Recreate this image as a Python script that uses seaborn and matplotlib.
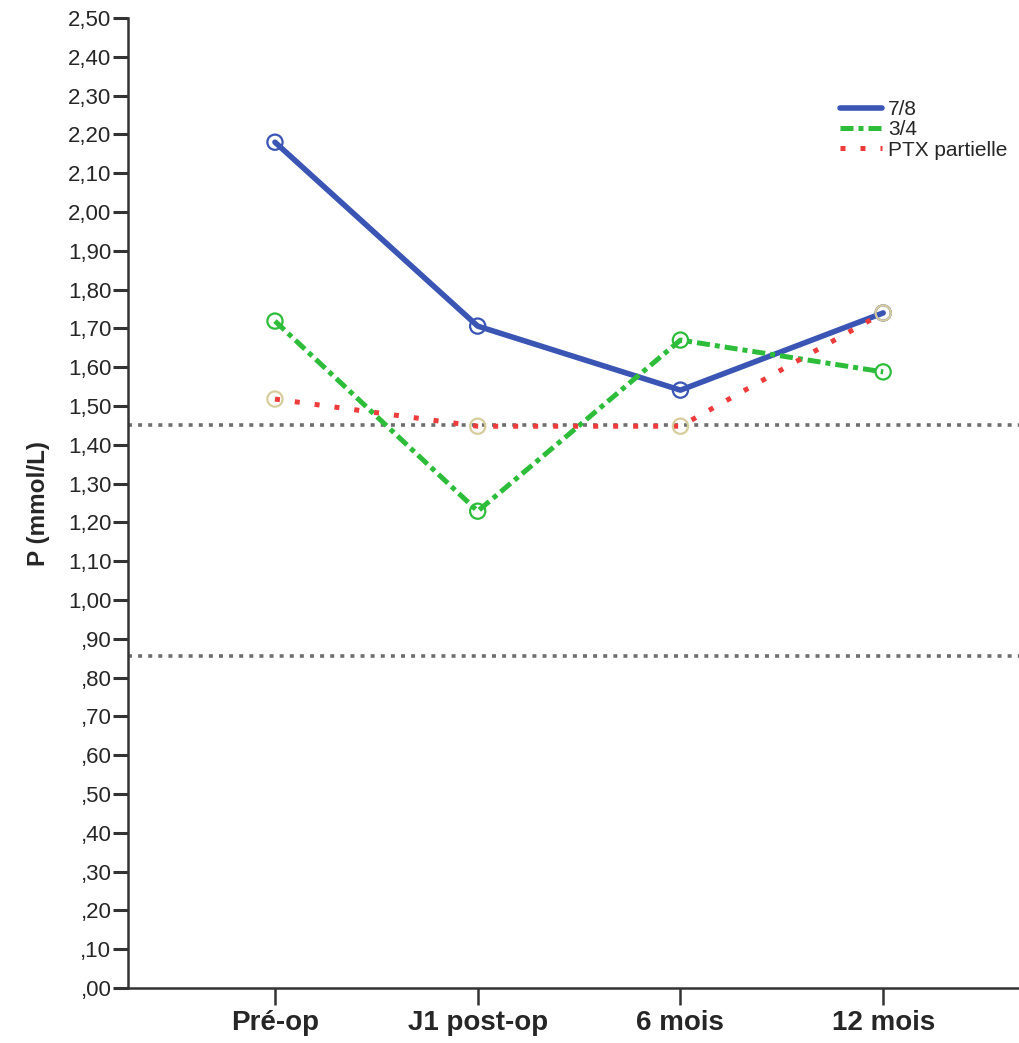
import matplotlib
matplotlib.use("Agg")
import matplotlib.pyplot as plt
from matplotlib.ticker import FuncFormatter, MultipleLocator
import numpy as np
import pandas as pd
import seaborn as sns

# ── data ──────────────────────────────────────────────────────────────────────
timepoints = ["Pré-op", "J1 post-op", "6 mois", "12 mois"]
p_78 = [2.18, 1.706, 1.541, 1.740]
p_34 = [1.719, 1.229, 1.670, 1.588]
p_ptx = [1.518, 1.448, 1.448, 1.740]
ref_low, ref_high = 0.855, 1.45

series = {"7/8": p_78, "3/4": p_34, "PTX partielle": p_ptx}
df = pd.DataFrame(
    [(i, t, v, g) for g, vals in series.items() for i, (t, v) in enumerate(zip(timepoints, vals))],
    columns=["pos", "temps", "P", "groupe"],
)

# ── styling ───────────────────────────────────────────────────────────────────
sns.set_style("ticks")
plt.rcParams["font.family"] = ["Liberation Sans", "DejaVu Sans"]

line_style = {
    "7/8":           dict(color="#3a55b4", lw=4.0, dashes=None, mec="#3a55b4"),
    "3/4":           dict(color="#2dbd3a", lw=3.6, dashes=(2.6, 1.0, 1.0, 1.0), mec="#2dbd3a"),
    "PTX partielle": dict(color="#ee3b3b", lw=3.6, dashes=(1.0, 3.0), mec="#d6cc9c"),
}

fig = plt.figure(figsize=(10.19, 10.43), dpi=100)
ax = fig.add_axes([0.1256, 0.0527, 0.8744, 0.930])

# reference limits
for yv in (ref_high, ref_low):
    ax.axhline(yv, color="#6e6e6e", lw=2.6, ls=(0, (1.1, 1.7)), zorder=1)

for g, sty in line_style.items():
    sub = df[df["groupe"] == g]
    kw = {}
    if sty["dashes"] is not None:
        kw["dashes"] = sty["dashes"]
    sns.lineplot(data=sub, x="pos", y="P", ax=ax, color=sty["color"],
                 linewidth=sty["lw"], label=g, zorder=3, **kw)
    sns.scatterplot(data=sub, x="pos", y="P", ax=ax, marker="o", s=120,
                    facecolor="none", edgecolor=sty["mec"], linewidth=1.6,
                    zorder=4, legend=False)

ax.set_xlim(-0.725, 3.67)
ax.set_ylim(0, 2.5)
ax.set_xticks(range(len(timepoints)))
ax.set_xticklabels(timepoints, fontsize=20, fontweight="bold")
ax.yaxis.set_major_locator(MultipleLocator(0.1))
ax.yaxis.set_major_formatter(FuncFormatter(
    lambda v, _: f"{v:.2f}".replace(".", ",").lstrip("0") if v < 1 else f"{v:.2f}".replace(".", ",")))
ax.tick_params(axis="y", labelsize=16, length=11, width=2.2, color="#333333", pad=1)
ax.tick_params(axis="x", length=12, width=1.8, color="#333333", pad=4)
ax.set_xlabel("")
ax.set_ylabel("P (mmol/L)", fontsize=17.5, fontweight="bold", labelpad=13)
for s in ("left", "bottom"):
    ax.spines[s].set_linewidth(1.8)
    ax.spines[s].set_color("#333333")
sns.despine(ax=ax)

leg = ax.legend(loc="upper left", bbox_to_anchor=(0.79, 0.924), frameon=False,
                fontsize=15, handlelength=2.0, handletextpad=0.3, labelspacing=0.06,
                borderaxespad=0)

fig.savefig("out.png", dpi=100)
